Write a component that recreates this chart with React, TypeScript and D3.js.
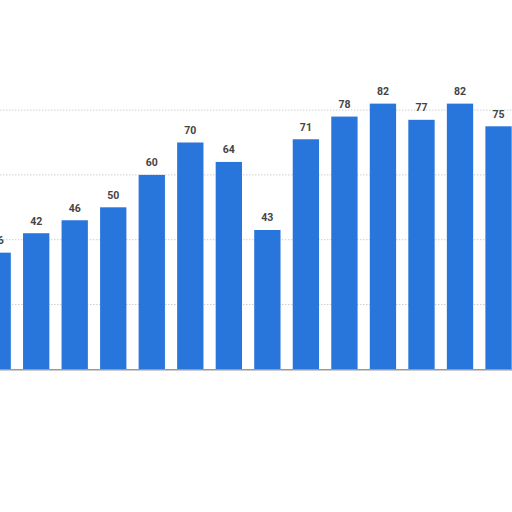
import React from "react";
import * as d3 from "d3";

const categories = ["2008","2009","2010","2011","2012","2013","2014","2015","2016","2017","2018","2019","2020","2021"];
const values = [36, 42, 46, 50, 60, 70, 64, 43, 71, 78, 82, 77, 82, 75];
const gridTicks = [20, 40, 60, 80];

const W = 512;
const H = 512;

export default function App() {
  const x = d3
    .scaleBand<string>()
    .domain(categories)
    .range([-21.6, 517.8])
    .paddingInner(0.317)
    .paddingOuter(0.1585);
  const y = d3.scaleLinear().domain([0, 100]).range([369.3, 45.3]);

  return (
    <svg
      width={W}
      height={H}
      viewBox={`0 0 ${W} ${H}`}
      style={{ position: "absolute", left: 0, top: 0, background: "#ffffff", overflow: "hidden" }}
    >
      <rect x={0} y={0} width={W} height={H} fill="#ffffff" />
      {gridTicks.map((t) => (
        <line
          key={t}
          x1={0}
          x2={W}
          y1={y(t)}
          y2={y(t)}
          stroke="#cfcfcf"
          strokeWidth={1}
          strokeDasharray="1.5 1.5"
        />
      ))}
      {categories.map((c, i) => (
        <rect
          key={c}
          x={x(c)}
          y={y(values[i])}
          width={x.bandwidth()}
          height={y(0) - y(values[i])}
          fill="#2876dc"
        />
      ))}
      {categories.map((c, i) => (
        <text
          key={"l" + c}
          x={(x(c) as number) + x.bandwidth() / 2}
          y={y(values[i]) - 8.5}
          textAnchor="middle"
          fontFamily="Roboto, 'Open Sans', Arial, sans-serif"
          fontWeight={700}
          fontSize={10.5}
          fill="#444444"
        >
          {values[i]}
        </text>
      ))}
      <line x1={0} x2={W} y1={y(0) + 0.5} y2={y(0) + 0.5} stroke="#9a9a9a" strokeWidth={1.5} />
    </svg>
  );
}
